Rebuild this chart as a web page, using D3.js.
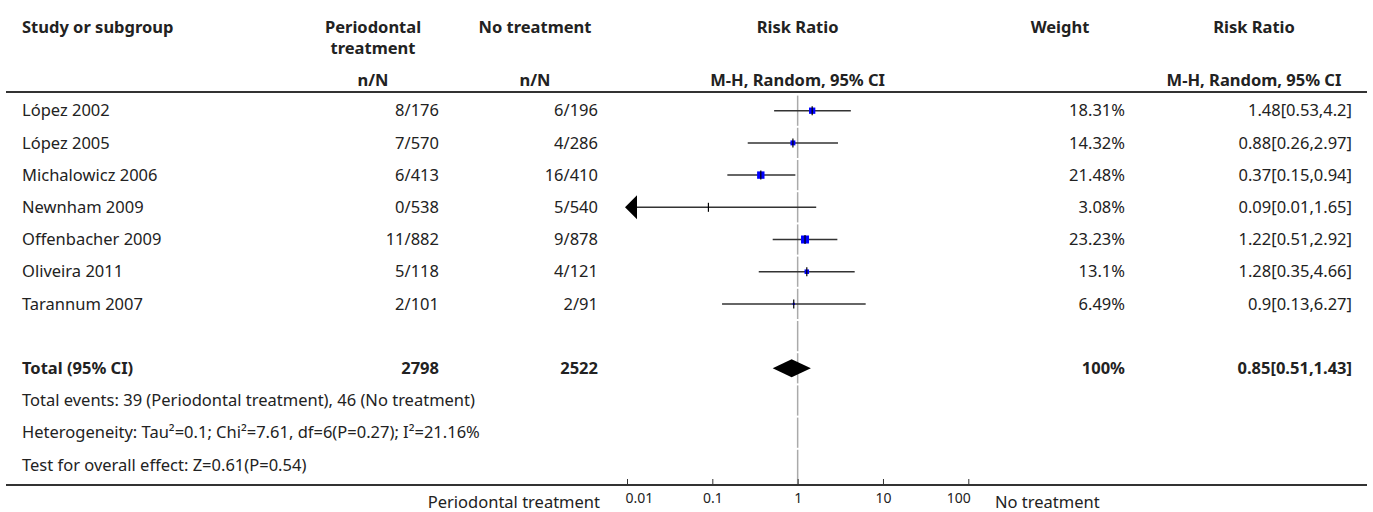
<!DOCTYPE html>
<html>
<head>
<meta charset="utf-8">
<script src="https://cdn.jsdelivr.net/npm/d3@7"></script>
<style>
  body { margin: 0; background: #fff; }
</style>
</head>
<body>
<div id="chartContainer"></div>
<script>
// study data
const studies = ["López 2002", "López 2005", "Michalowicz 2006", "Newnham 2009", "Offenbacher 2009", "Oliveira 2011", "Tarannum 2007"];
const treatEvents = [8, 7, 6, 0, 11, 5, 2];
const treatTotal = [176, 570, 413, 538, 882, 118, 101];
const ctrlEvents = [6, 4, 16, 5, 9, 4, 2];
const ctrlTotal = [196, 286, 410, 540, 878, 121, 91];
const weights = [18.31, 14.32, 21.48, 3.08, 23.23, 13.1, 6.49];
const riskRatio = [1.48, 0.88, 0.37, 0.09, 1.22, 1.28, 0.9];
const ciLower = [0.53, 0.26, 0.15, 0.01, 0.51, 0.35, 0.13];
const ciUpper = [4.2, 2.97, 0.94, 1.65, 2.92, 4.66, 6.27];

const totalTreat = 2798;
const totalCtrl = 2522;
const totalRR = [0.85, 0.51, 1.43]; // estimate, lower, upper

const footnotes = [
  "Total events: 39 (Periodontal treatment), 46 (No treatment)",
  "Heterogeneity: Tau²=0.1; Chi²=7.61, df=6(P=0.27); I²=21.16%",
  "Test for overall effect: Z=0.61(P=0.54)"
];

const tickValues = [0.01, 0.1, 1, 10, 100];
const tickLabels = ["0.01", "0.1", "1", "10", "100"];
const leftLabel = "Periodontal treatment";
const rightLabel = "No treatment";

const width = 1373;
const height = 512;
const font = "'Noto Sans', 'Open Sans', sans-serif";
const fontSize = 16.5;
const textColor = "#222";

const colStudy = 22;
const colTreat = 439;   // right edge of values
const colCtrl = 598;
const colTreatHead = 373;
const colCtrlHead = 535;
const colWeight = 1125;
const colWeightHead = 1060;
const colRR = 1352;
const colRRHead = 1254;

const x = d3.scaleLog()
  .domain([0.01, 100])
  .range([627, 968.3]);

// row index -> vertical center
const y = d3.scaleLinear()
  .domain([0, 1])
  .range([110.7, 142.9]);
const rowH = y(1) - y(0);

const axisY = 485;

const svg = d3.create("svg")
  .attr("width", width)
  .attr("height", height)
  .attr("viewBox", [0, 0, width, height])
  .attr("style", `font-family: ${font}; font-size: ${fontSize}px;`);

document.getElementById("chartContainer").appendChild(svg.node());

function label(txt, xPos, yPos, anchor, bold) {
  svg.append("text")
    .attr("x", xPos)
    .attr("y", yPos)
    .attr("dy", "0.35em")
    .attr("text-anchor", anchor)
    .attr("fill", textColor)
    .attr("font-weight", bold ? 700 : 400)
    .text(txt);
}

// header
label("Study or subgroup", colStudy, 27, "start", true);
label("Periodontal", colTreatHead, 27, "middle", true);
label("treatment", colTreatHead, 48.5, "middle", true);
label("No treatment", colCtrlHead, 27, "middle", true);
label("Risk Ratio", x(1), 27, "middle", true);
label("Weight", colWeightHead, 27, "middle", true);
label("Risk Ratio", colRRHead, 27, "middle", true);
label("n/N", colTreatHead, 80, "middle", true);
label("n/N", colCtrlHead, 80, "middle", true);
label("M-H, Random, 95% CI", x(1), 80, "middle", true);
label("M-H, Random, 95% CI", colRRHead, 80, "middle", true);

svg.append("line")
  .attr("x1", 6).attr("x2", 1367)
  .attr("y1", 92).attr("y2", 92)
  .attr("stroke", "#333")
  .attr("stroke-width", 2);

// line of no effect, drawn row by row with small gaps
const nRows = 12;
svg.append("g")
  .attr("stroke", "#aaa")
  .attr("stroke-width", 1.5)
  .selectAll("line")
  .data(d3.range(nRows))
  .join("line")
  .attr("x1", x(1)).attr("x2", x(1))
  .attr("y1", i => y(i) - rowH / 2 + 1)
  .attr("y2", i => i === nRows - 1 ? axisY : y(i) + rowH / 2 - 1);

// study rows text
const rows = studies.map((s, i) => ({
  study: s, i,
  treat: `${treatEvents[i]}/${treatTotal[i]}`,
  ctrl: `${ctrlEvents[i]}/${ctrlTotal[i]}`,
  weight: weights[i], rr: riskRatio[i], lo: ciLower[i], hi: ciUpper[i]
}));

rows.forEach(d => {
  label(d.study, colStudy, y(d.i), "start", false);
  label(d.treat, colTreat, y(d.i), "end", false);
  label(d.ctrl, colCtrl, y(d.i), "end", false);
  label(`${d.weight}%`, colWeight, y(d.i), "end", false);
  label(`${d.rr}[${d.lo},${d.hi}]`, colRR, y(d.i), "end", false);
});

// confidence intervals
const minX = x.domain()[0];
const marks = svg.append("g");

marks.selectAll("line.ci")
  .data(rows)
  .join("line")
  .attr("class", "ci")
  .attr("x1", d => d.lo <= minX ? x(minX) + 10 : x(d.lo))
  .attr("x2", d => x(d.hi))
  .attr("y1", d => y(d.i))
  .attr("y2", d => y(d.i))
  .attr("stroke", "#333")
  .attr("stroke-width", 1.5);

// arrows for intervals running off the scale
marks.selectAll("path.arrow")
  .data(rows.filter(d => d.lo <= minX))
  .join("path")
  .attr("class", "arrow")
  .attr("d", d => {
    const tip = x(minX) - 2, cy = y(d.i);
    return `M${tip},${cy}L${tip + 12},${cy - 12}L${tip + 12},${cy + 12}Z`;
  })
  .attr("fill", "#000");

// weighted squares
const size = d3.scaleLinear().domain([0, d3.max(weights)]).range([0, 8]);
marks.selectAll("rect")
  .data(rows)
  .join("rect")
  .attr("x", d => x(d.rr) - size(d.weight) / 2)
  .attr("y", d => y(d.i) - size(d.weight) / 2)
  .attr("width", d => size(d.weight))
  .attr("height", d => size(d.weight))
  .attr("fill", "#0000ff");

marks.selectAll("line.est")
  .data(rows)
  .join("line")
  .attr("class", "est")
  .attr("x1", d => x(d.rr)).attr("x2", d => x(d.rr))
  .attr("y1", d => y(d.i) - 4.5)
  .attr("y2", d => y(d.i) + 4.5)
  .attr("stroke", "#000")
  .attr("stroke-width", 1.2);

// total row
const totalRow = 8;
label("Total (95% CI)", colStudy, y(totalRow), "start", true);
label(totalTreat, colTreat, y(totalRow), "end", true);
label(totalCtrl, colCtrl, y(totalRow), "end", true);
label("100%", colWeight, y(totalRow), "end", true);
label(`${totalRR[0]}[${totalRR[1]},${totalRR[2]}]`, colRR, y(totalRow), "end", true);

const cy = y(totalRow);
svg.append("path")
  .attr("d", `M${x(totalRR[1])},${cy}L${x(totalRR[0])},${cy - 9}L${x(totalRR[2])},${cy}L${x(totalRR[0])},${cy + 9}Z`)
  .attr("fill", "#000");

footnotes.forEach((t, k) => label(t, colStudy, y(totalRow + 1 + k), "start", false));

// bottom rule and axis
svg.append("line")
  .attr("x1", 6).attr("x2", 1367)
  .attr("y1", axisY).attr("y2", axisY)
  .attr("stroke", "#333")
  .attr("stroke-width", 2);

const axis = svg.append("g")
  .attr("transform", `translate(0,${axisY})`)
  .call(d3.axisBottom(x)
    .tickValues(tickValues)
    .tickFormat((d, i) => tickLabels[i])
    .tickSize(-6)
    .tickPadding(8))
  .call(g => g.select(".domain").remove());

axis.selectAll("line").attr("stroke", "#333");
axis.selectAll("text")
  .attr("font-family", font)
  .attr("font-size", 14)
  .attr("fill", textColor)
  .attr("text-anchor", (d, i) => i === 0 ? "start" : i === tickValues.length - 1 ? "end" : "middle")
  .attr("dx", (d, i) => i === 0 ? -2 : i === tickValues.length - 1 ? 2 : 0);

label(leftLabel, 600, 502, "end", false);
label(rightLabel, 995, 502, "start", false);
</script>
</body>
</html>
